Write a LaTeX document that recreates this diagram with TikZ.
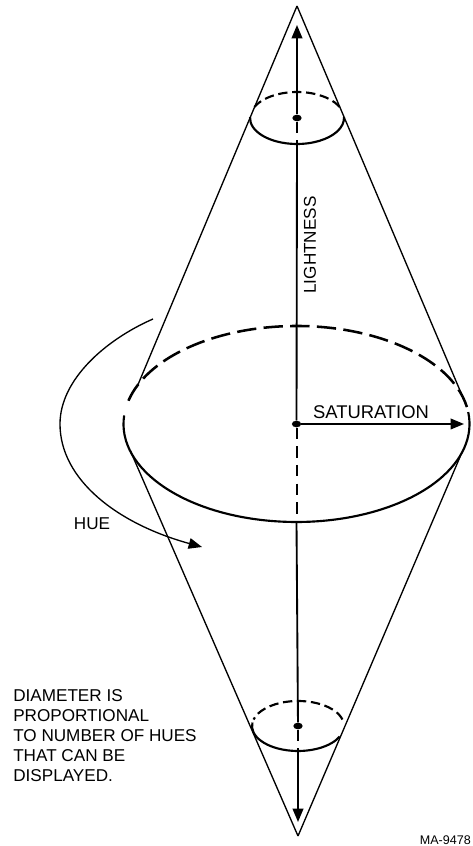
\documentclass[tikz,border=0pt]{standalone}
\usepackage{fontspec}
\setmainfont{Liberation Sans}
\usetikzlibrary{shapes.geometric,arrows.meta,positioning,calc}

\begin{document}
\begin{tikzpicture}[
    x=0.75pt, y=0.75pt,
    conetext/.style={inner sep=0pt, font=\fontsize{12.85}{15}\selectfont},
    centerdot/.style={ellipse, fill=black, inner sep=0pt, minimum width=7pt, minimum height=5pt},
    coneline/.style={line width=1pt},
    axisline/.style={line width=1.4pt},
    axisdash/.style={line width=1.5pt, dash pattern=on 8.5pt off 5.5pt},
    rimline/.style={line width=1.6pt},
    rimdash/.style={line width=1.9pt, dash pattern=on 14.5pt off 5.5pt},
    smalldash/.style={line width=1.6pt, dash pattern=on 7pt off 3.5pt},
    arrow/.style={-{Triangle[length=10pt,width=8pt]}}
]
\useasboundingbox (0,0) rectangle (472,846);

\coordinate (apextop) at (297,840);
\coordinate (apexbot) at (298,10);
\coordinate (uppertipL) at (137,459);
\coordinate (uppertipR) at (467,439);
\coordinate (lowertipL) at (130,396);
\coordinate (lowertipR) at (460,389);
\coordinate (tiptop) at (297,821);
\coordinate (tipbot) at (298,24);
\coordinate (fronttop) at (297,703);
\coordinate (frontmid) at (296.5,324);
\coordinate (frontbot) at (298,94);
\coordinate (satend) at (464,422);
\coordinate (huestart) at (153,527);
\coordinate (hueleft) at (60,422);
\coordinate (hueend) at (202,299);

\node[centerdot] (dottop) at (297,728) {};
\node[centerdot] (dotmid) at (296.5,422) {};
\node[centerdot] (dotbot) at (298,120) {};

\draw[coneline] (apextop) -- (uppertipL);
\draw[coneline] (apextop) -- (uppertipR);
\draw[coneline] (apexbot) -- (lowertipL);
\draw[coneline] (apexbot) -- (lowertipR);

\draw[axisline, arrow] (dottop) -- (tiptop);
\draw[axisdash] (dottop) -- (fronttop);
\draw[axisline] (fronttop) -- (dotmid);
\draw[axisdash] (dotmid) -- (frontmid);
\draw[axisline] (frontmid) -- (dotbot);
\draw[axisdash] (dotbot) -- (frontbot);
\draw[axisline, arrow] (frontbot) -- (tipbot);

\draw[rimline] (dotmid) ++(175:173 and 98) arc[start angle=175, end angle=367, x radius=173, y radius=98];
\draw[rimdash] (dotmid) ++(10:173 and 98) arc[start angle=10, end angle=170, x radius=173, y radius=98];
\draw[rimline] (dottop) ++(178:47 and 26) arc[start angle=178, end angle=362, x radius=47, y radius=26];
\draw[smalldash] (dottop) ++(25:47 and 26) arc[start angle=25, end angle=155, x radius=47, y radius=26];
\draw[rimline] (dotbot) ++(172:46 and 25) arc[start angle=172, end angle=335, x radius=46, y radius=25];
\draw[smalldash] (dotbot) ++(15:46 and 25) arc[start angle=15, end angle=165, x radius=46, y radius=25];

\draw[line width=1.1pt, arrow] (dotmid) -- (satend);
\draw[line width=1pt, arrow] (huestart) .. controls (105,506) and (60,466) .. (hueleft) .. controls (60,366) and (118,322) .. (hueend);

\node[conetext, rotate=90] (lightness) at (310,601) {LIGHTNESS};
\node[conetext, font=\fontsize{13.8}{15}\selectfont] (saturation) at (371,434) {SATURATION};
\node[conetext] (hue) at (92,322) {HUE};
\node[conetext, anchor=west, align=left] (diameter) at (13,110) {DIAMETER IS\\PROPORTIONAL\\TO NUMBER OF HUES\\THAT  CAN BE\\DISPLAYED.};
\node[inner sep=0pt, font=\fontsize{9.4}{11}\selectfont, anchor=east] (label) at (471,6) {MA-9478};
\end{tikzpicture}
\end{document}
